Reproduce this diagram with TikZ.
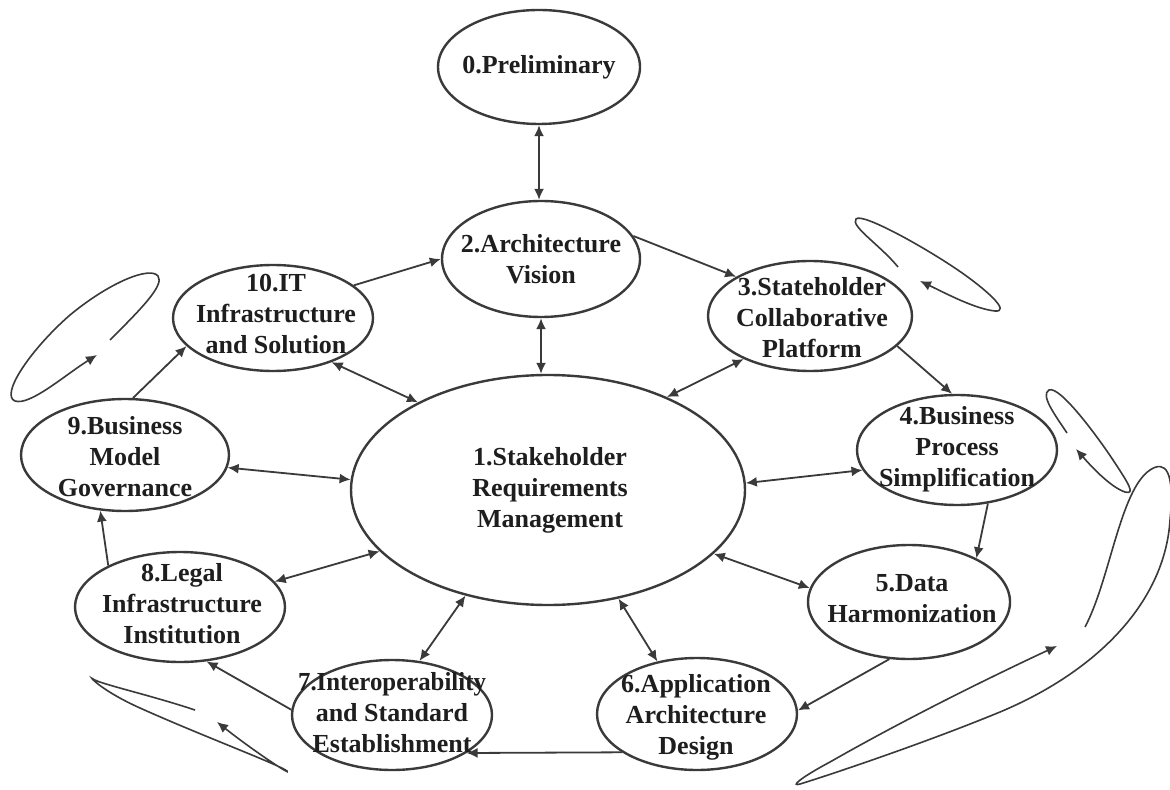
\documentclass[tikz,border=0pt]{standalone}
\usepackage{fontspec}
\setmainfont{Liberation Serif}
\usetikzlibrary{shapes.geometric,arrows.meta}
\definecolor{lc}{HTML}{3A3A3A}
\definecolor{tc}{HTML}{1E1E1E}
\begin{document}
\begin{tikzpicture}[x=0.5pt,y=-0.5pt,
  ell/.style={ellipse, draw=lc, line width=1.2pt, inner sep=0pt, fill=white},
  lbl/.style={font=\bfseries\fontsize{13}{15.5}\selectfont, align=center, text=tc, inner sep=0pt},
  tip/.tip={Latex[length=5.5pt,width=5pt]},
  con/.style={draw=lc, line width=0.9pt, -tip},
  bi/.style={draw=lc, line width=0.9pt, tip-tip},
  loopl/.style={draw=lc, line width=0.8pt, -tip}]
\fill[white] (0,0) rectangle (1170,790);
\useasboundingbox (0,0) rectangle (1170,790);
\begin{scope}
\clip (0,0) rectangle (1170,790);
% loops
\draw[loopl] (110,340) .. controls (140,310) and (165,285) .. (158,276) .. controls (150,266) and (110,282) .. (70,315) .. controls (30,350) and (0,395) .. (15,401) .. controls (30,406) and (65,375) .. (97,355);
\draw[loopl] (898,267) .. controls (880,245) and (850,226) .. (856,219) .. controls (862,212) and (930,250) .. (965,275) .. controls (990,293) and (1010,312) .. (995,311) .. controls (975,309) and (945,293) .. (920,281);
\draw[loopl] (1067,433) .. controls (1055,415) and (1040,395) .. (1049,390) .. controls (1060,385) and (1100,440) .. (1115,463) .. controls (1128,483) and (1136,495) .. (1125,492) .. controls (1110,487) and (1090,465) .. (1076,449);
\draw[loopl] (1085,627) .. controls (1110,580) and (1120,490) .. (1150,470) .. controls (1165,460) and (1175,470) .. (1170,520) .. controls (1165,600) and (1100,670) .. (1000,712) .. controls (920,745) and (820,778) .. (800,784) .. controls (790,787) and (800,778) .. (830,762) .. controls (900,722) and (980,682) .. (1057,646);
\draw[loopl] (195,710) .. controls (150,695) and (100,684) .. (93,679) .. controls (88,675) and (100,690) .. (140,708) .. controls (200,735) and (280,765) .. (287,771) .. controls (292,776) and (255,752) .. (217,722);
\end{scope}
% nodes
\node[ell, minimum width=101pt, minimum height=57pt] (n0) at (539,67) {};
\node[lbl] (t0) at (n0) {0.Preliminary};
\node[ell, minimum width=99pt, minimum height=58pt] (n2) at (541,259) {};
\node[lbl] (t2) at (n2) {2.Architecture\\Vision};
\node[ell, minimum width=197pt, minimum height=115pt] (n1) at (548,490) {};
\node[lbl] (t1) at (550,490) {1.Stakeholder\\Requirements\\Management};
\node[ell, minimum width=100pt, minimum height=53pt] (n10) at (273,318) {};
\node[lbl] (t10) at (276,314) {10.IT\\Infrastructure\\and Solution};
\node[ell, minimum width=102pt, minimum height=55pt] (n3) at (810,316) {};
\node[lbl] (t3) at (812,318) {3.Stateholder\\Collaborative\\Platform};
\node[ell, minimum width=100pt, minimum height=55pt] (n4) at (957,450) {};
\node[lbl] (t4) at (957,449) {4.Business\\Process\\Simplification};
\node[ell, minimum width=101pt, minimum height=57pt] (n5) at (909,602) {};
\node[lbl] (t5) at (912,599) {5.Data\\Harmonization};
\node[ell, minimum width=100pt, minimum height=56pt] (n6) at (697,714) {};
\node[lbl] (t6) at (696,717) {6.Application\\Architecture\\Design};
\node[ell, minimum width=100pt, minimum height=55pt] (n7) at (392,715) {};
\node[lbl] (t7) at (392,713) {\scalebox{0.955}[1]{7.Interoperability}\\and Standard\\Establishment};
\node[ell, minimum width=105pt, minimum height=55pt] (n8) at (180,607) {};
\node[lbl] (t8) at (182,604) {8.Legal\\Infrastructure\\Institution};
\node[ell, minimum width=104pt, minimum height=56pt] (n9) at (125,455) {};
\node[lbl] (t9) at (125,457) {9.Business\\Model\\Governance};
% cycle connectors
\draw[bi] (n0.south) -- (n0.south |- n2.north);
\draw[bi] (n2.south) -- (n2.south |- n1.north);
\draw[con] (n10.22) -- (n2.180);
\draw[con] (n2.14) -- (n3.152);
\draw[con] (n3.-19) -- (n4.95);
\draw[con] (n4.-60) -- (n5.33);
\draw[con] (n5.251) -- (n6.2);
\draw[con] (n6.207) -- (n7.-27);
\draw[con] (n7.177) -- (n8.-64);
\draw[con] (n8.150) -- (n9.246);
\draw[con] (n9.82) -- (n10.198);
% spokes
\draw[bi] (n10.-37) -- (n1.146);
\draw[bi] (n3.213) -- (n1.38);
\draw[bi] (n9.-7) -- (n1.177);
\draw[bi] (n4.192) -- (n1.2);
\draw[bi] (n8.15) -- (n1.200);
\draw[bi] (n5.172) -- (n1.-21);
\draw[bi] (n7.63) -- (n1.232);
\draw[bi] (n6.127) -- (n1.-57);
\end{tikzpicture}
\end{document}
